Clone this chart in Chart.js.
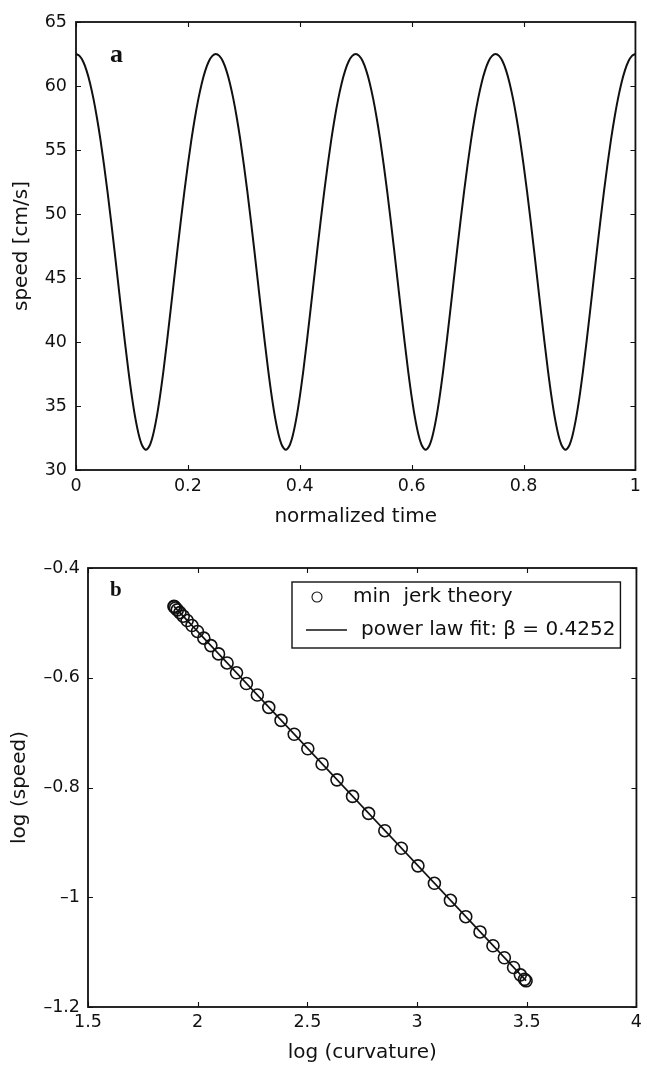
<!DOCTYPE html>
<html>
<head>
<meta charset="utf-8">
<script src="https://cdn.jsdelivr.net/npm/chart.js@4.4.1/dist/chart.umd.min.js"></script>
<style>
  body { margin: 0; background: #fff; }
  #top { position: absolute; left: 0; top: 0; }
  #bottom { position: absolute; left: 0; top: 540px; }
</style>
</head>
<body>
<canvas id="top" width="647" height="540"></canvas>
<canvas id="bottom" width="647" height="527"></canvas>
<script>
// panel a: speed over normalized time (161 samples)
var speed = [
  62.50, 62.35, 61.93, 61.22, 60.24, 58.99, 57.50, 55.79, 53.86, 51.76, 49.52, 47.17, 44.75, 42.33, 39.97, 37.73, 35.72, 34.01, 32.70, 31.87,
  31.59, 31.87, 32.70, 34.01, 35.72, 37.73, 39.97, 42.33, 44.75, 47.17, 49.52, 51.76, 53.86, 55.79, 57.50, 58.99, 60.24, 61.22, 61.93, 62.35,
  62.50, 62.35, 61.93, 61.22, 60.24, 58.99, 57.50, 55.79, 53.86, 51.76, 49.52, 47.17, 44.75, 42.33, 39.97, 37.73, 35.72, 34.01, 32.70, 31.87,
  31.59, 31.87, 32.70, 34.01, 35.72, 37.73, 39.97, 42.33, 44.75, 47.17, 49.52, 51.76, 53.86, 55.79, 57.50, 58.99, 60.24, 61.22, 61.93, 62.35,
  62.50, 62.35, 61.93, 61.22, 60.24, 58.99, 57.50, 55.79, 53.86, 51.76, 49.52, 47.17, 44.75, 42.33, 39.97, 37.73, 35.72, 34.01, 32.70, 31.87,
  31.59, 31.87, 32.70, 34.01, 35.72, 37.73, 39.97, 42.33, 44.75, 47.17, 49.52, 51.76, 53.86, 55.79, 57.50, 58.99, 60.24, 61.22, 61.93, 62.35,
  62.50, 62.35, 61.93, 61.22, 60.24, 58.99, 57.50, 55.79, 53.86, 51.76, 49.52, 47.17, 44.75, 42.33, 39.97, 37.73, 35.72, 34.01, 32.70, 31.87,
  31.59, 31.87, 32.70, 34.01, 35.72, 37.73, 39.97, 42.33, 44.75, 47.17, 49.52, 51.76, 53.86, 55.79, 57.50, 58.99, 60.24, 61.22, 61.93, 62.35,
  62.50
]
var timeTicks = [0, 0.2, 0.4, 0.6, 0.8, 1]
var speedTicks = [30, 35, 40, 45, 50, 55, 60, 65]

// panel b: log speed vs log curvature
var logCurvature = [
  1.892, 1.894, 1.899, 1.907, 1.919, 1.934, 1.952, 1.974, 1.999, 2.028,
  2.060, 2.095, 2.134, 2.177, 2.222, 2.272, 2.324, 2.380, 2.440, 2.502,
  2.567, 2.635, 2.706, 2.779, 2.853, 2.928, 3.004, 3.079, 3.152, 3.222,
  3.287, 3.346, 3.398, 3.440, 3.471, 3.490, 3.497
]
var logSpeed = [
  -0.4700, -0.4707, -0.4729, -0.4764, -0.4814, -0.4878, -0.4956, -0.5049, -0.5156, -0.5278,
  -0.5414, -0.5565, -0.5730, -0.5910, -0.6105, -0.6315, -0.6539, -0.6777, -0.7029, -0.7294,
  -0.7572, -0.7861, -0.8162, -0.8471, -0.8787, -0.9107, -0.9428, -0.9746, -1.0056, -1.0354,
  -1.0632, -1.0883, -1.1102, -1.1281, -1.1414, -1.1496, -1.1523
]
var fitCurvature = [1.892, 3.497]
var fitSpeed = [-0.470, -1.152]
var curvatureTicks = [1.5, 2, 2.5, 3, 3.5, 4]
var logSpeedTicks = [-1.2, -1, -0.8, -0.6, -0.4]

var ink = "#111"
var tickFont = { family: "DejaVu Sans", size: 17.5 }
var titleFont = { family: "DejaVu Sans", size: 20 }

function fmt(v) {
  return String(v).replace("-", "\u2013")
}

function setTicks(list) {
  return function(axis) {
    axis.ticks = list.map(function(v) { return { value: v } })
  }
}

function setSize(key, size) {
  return function(axis) { axis[key] = size }
}

// box, inward ticks, panel letter and legend in the old matlab look
var matlabFrame = {
  id: "matlabFrame",
  afterDraw: function(chart, args, opts) {
    var ctx = chart.ctx
    var a = chart.chartArea
    var x = chart.scales.x
    var y = chart.scales.y
    ctx.save()
    ctx.strokeStyle = ink
    ctx.lineWidth = 1.1
    ctx.beginPath()
    x.ticks.forEach(function(t) {
      var px = Math.round(x.getPixelForValue(t.value)) + 0.5
      ctx.moveTo(px, a.bottom); ctx.lineTo(px, a.bottom - 5)
      ctx.moveTo(px, a.top); ctx.lineTo(px, a.top + 5)
    })
    y.ticks.forEach(function(t) {
      var py = Math.round(y.getPixelForValue(t.value)) + 0.5
      ctx.moveTo(a.left, py); ctx.lineTo(a.left + 5, py)
      ctx.moveTo(a.right, py); ctx.lineTo(a.right - 5, py)
    })
    ctx.stroke()
    ctx.lineWidth = 1.8
    ctx.strokeRect(a.left, a.top, a.right - a.left, a.bottom - a.top)

    ctx.fillStyle = ink
    ctx.font = opts.letterFont
    ctx.textBaseline = "alphabetic"
    ctx.fillText(opts.letter, a.left + opts.letterX, a.top + opts.letterY)

    if (opts.legend) {
      var lx = a.left + 204
      var ly = a.top + 14
      var lw = a.right - 16 - lx
      var lh = 66
      ctx.fillStyle = "#fff"
      ctx.fillRect(lx, ly, lw, lh)
      ctx.lineWidth = 1.4
      ctx.strokeRect(lx, ly, lw, lh)
      var sets = chart.data.datasets
      ctx.font = "20px 'DejaVu Sans'"
      ctx.textBaseline = "middle"
      ctx.fillStyle = ink
      // marker row
      ctx.lineWidth = 1.1
      ctx.beginPath()
      ctx.arc(lx + 25, ly + 15, 5, 0, Math.PI * 2)
      ctx.stroke()
      ctx.fillText(sets[0].label, lx + 61, ly + 15)
      // line row
      ctx.lineWidth = 1.6
      ctx.beginPath()
      ctx.moveTo(lx + 14, ly + 48)
      ctx.lineTo(lx + 55, ly + 48)
      ctx.stroke()
      ctx.fillText(sets[1].label, lx + 69, ly + 48)
    }
    ctx.restore()
  }
}

function renderTop() {
  var points = speed.map(function(v, i) {
    return { x: i / (speed.length - 1), y: v }
  })
  new Chart(document.getElementById("top"), {
    type: "line",
    data: {
      datasets: [{
        label: "speed",
        data: points,
        borderColor: ink,
        borderWidth: 2,
        pointRadius: 0,
        cubicInterpolationMode: "monotone",
        fill: false
      }]
    },
    options: {
      responsive: false,
      animation: false,
      devicePixelRatio: 1,
      layout: { padding: { top: 22, right: 6, left: 0, bottom: 0 } },
      plugins: {
        legend: { display: false },
        tooltip: { enabled: false },
        matlabFrame: { letter: "a", letterFont: "bold 26px 'Liberation Serif'", letterX: 34, letterY: 40 }
      },
      scales: {
        x: {
          type: "linear",
          min: 0,
          max: 1,
          afterBuildTicks: setTicks(timeTicks),
          afterFit: setSize("height", 70),
          grid: { display: false, drawTicks: false },
          border: { display: false },
          ticks: { font: tickFont, color: ink, padding: 6, maxRotation: 0, callback: fmt },
          title: { display: true, text: "normalized time", font: titleFont, color: ink, padding: { top: 0, bottom: 11 } }
        },
        y: {
          min: 30,
          max: 65,
          afterBuildTicks: setTicks(speedTicks),
          afterFit: setSize("width", 76),
          grid: { display: false, drawTicks: false },
          border: { display: false },
          ticks: { font: tickFont, color: ink, padding: 9, callback: fmt },
          title: { display: true, text: "speed [cm/s]", font: titleFont, color: ink, padding: { top: 10, bottom: 0 } }
        }
      }
    },
    plugins: [matlabFrame]
  })
}

function renderBottom() {
  var dots = logCurvature.map(function(v, i) { return { x: v, y: logSpeed[i] } })
  var fit = fitCurvature.map(function(v, i) { return { x: v, y: fitSpeed[i] } })
  new Chart(document.getElementById("bottom"), {
    type: "scatter",
    data: {
      datasets: [{
        label: "min  jerk theory",
        data: dots,
        pointStyle: "circle",
        pointRadius: 6,
        borderWidth: 1.6,
        borderColor: ink,
        backgroundColor: "rgba(0,0,0,0)",
        showLine: false
      }, {
        label: "power law fit: \u03b2 = 0.4252",
        data: fit,
        type: "line",
        borderColor: ink,
        borderWidth: 1.6,
        pointRadius: 0,
        fill: false
      }]
    },
    options: {
      responsive: false,
      animation: false,
      devicePixelRatio: 1,
      layout: { padding: { top: 28, right: 5, left: 0, bottom: 0 } },
      plugins: {
        legend: { display: false },
        tooltip: { enabled: false },
        matlabFrame: { letter: "b", letterFont: "bold 21px 'Liberation Serif'", letterX: 22, letterY: 28, legend: true }
      },
      scales: {
        x: {
          type: "linear",
          min: 1.5,
          max: 4,
          afterBuildTicks: setTicks(curvatureTicks),
          afterFit: setSize("height", 60),
          grid: { display: false, drawTicks: false },
          border: { display: false },
          ticks: { font: tickFont, color: ink, padding: 5, maxRotation: 0, callback: fmt },
          title: { display: true, text: "log (curvature)", font: titleFont, color: ink, padding: { top: 0, bottom: 2 } }
        },
        y: {
          type: "linear",
          min: -1.2,
          max: -0.4,
          afterBuildTicks: setTicks(logSpeedTicks),
          afterFit: setSize("width", 88),
          grid: { display: false, drawTicks: false },
          border: { display: false },
          ticks: { font: tickFont, color: ink, padding: 8, callback: fmt },
          title: { display: true, text: "log (speed)", font: titleFont, color: ink, padding: { top: 8, bottom: 0 } }
        }
      }
    },
    plugins: [matlabFrame]
  })
}

renderTop()
renderBottom()
</script>
</body>
</html>
